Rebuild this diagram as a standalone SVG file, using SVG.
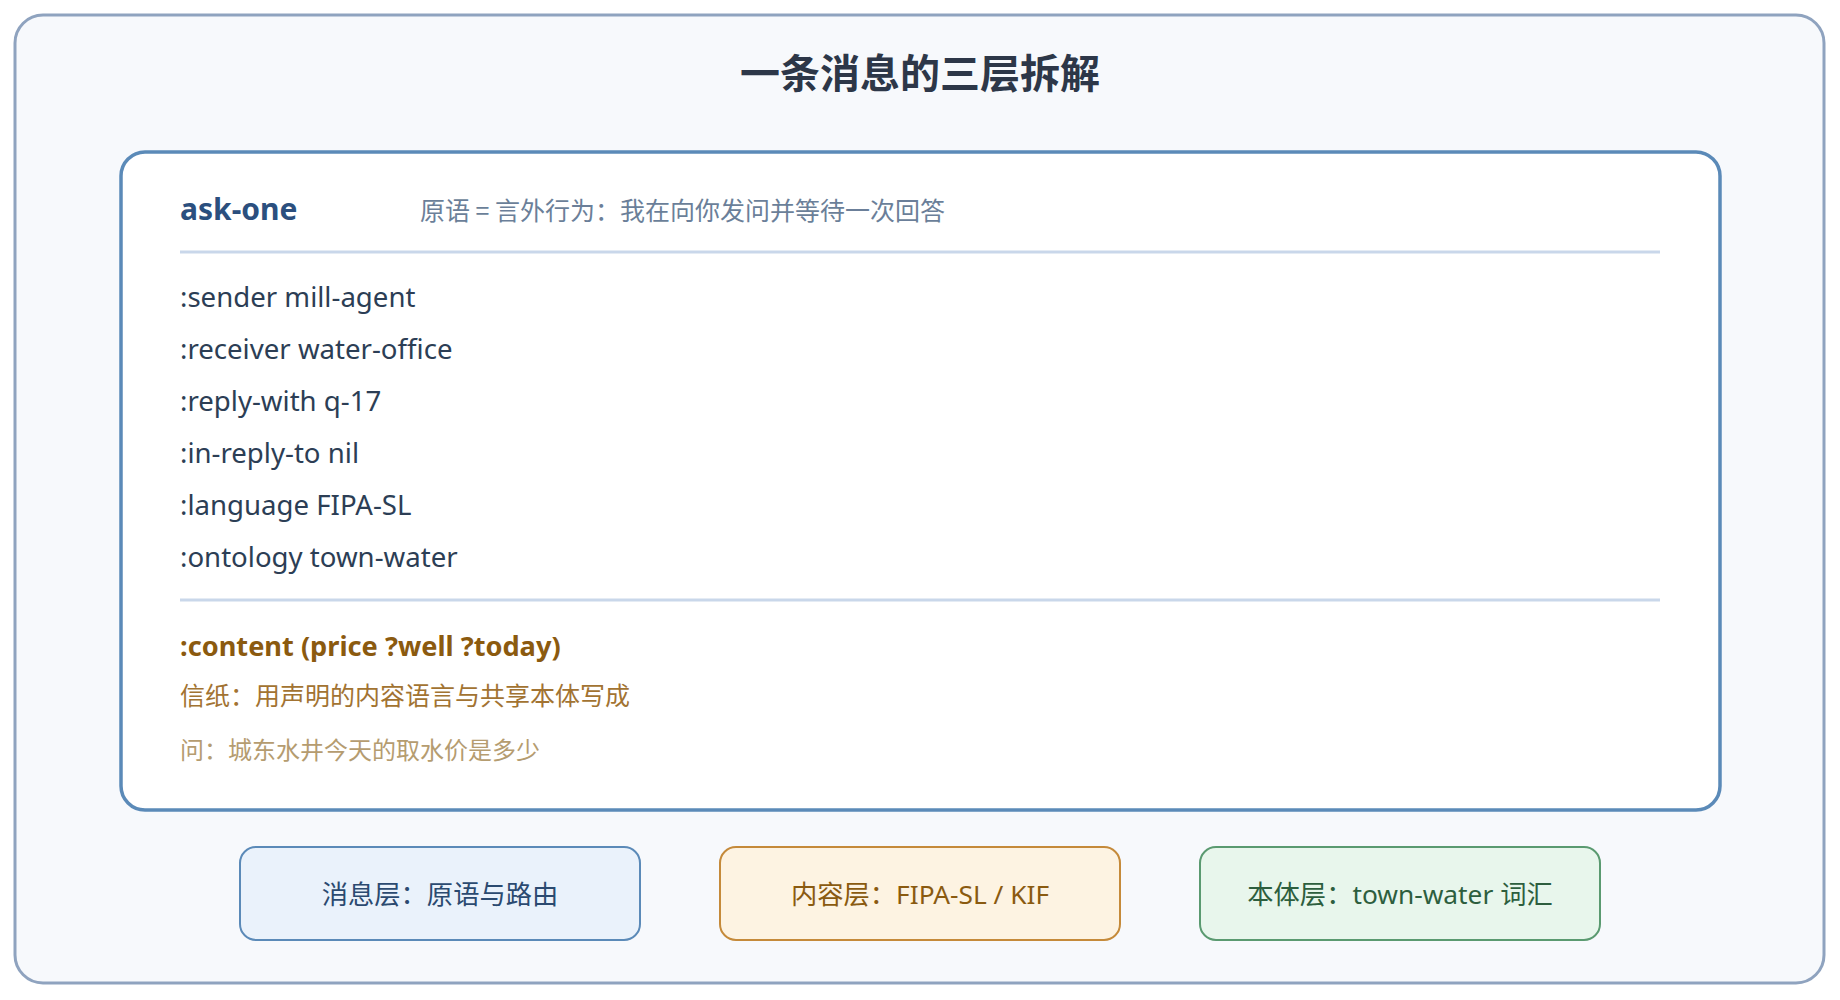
<svg xmlns="http://www.w3.org/2000/svg" width="1840" height="1000" viewBox="0 0 1840 1000">
<style>
text{font-family:"Noto Sans","Noto Sans CJK SC",sans-serif}
.cjk{font-family:"Noto Sans CJK SC","Noto Sans",sans-serif}
.title{font-size:40px;font-weight:700;fill:#2d3748}
.field{font-size:27.6px;fill:#2c3e55}
.sep{stroke:#c9d7ea;stroke-width:3}
.legend{font-size:26.3px}
</style>
<rect x="15" y="15" width="1809" height="968" rx="28" fill="#f7f9fc" stroke="#8fa3bf" stroke-width="3"/>
<text class="title cjk" x="920" y="88" text-anchor="middle">一条消息的三层拆解</text>
<g id="message-card">
<rect x="121" y="152" width="1599" height="658" rx="24" fill="#ffffff" stroke="#5b8ab8" stroke-width="3.5"/>
<text x="180" y="220" font-size="30" font-weight="700" fill="#2b4f7e">ask-one</text>
<text class="cjk" x="420" y="220" font-size="25" fill="#6b7f99">原语 = 言外行为：我在向你发问并等待一次回答</text>
<line class="sep" x1="180" y1="252" x2="1660" y2="252"/>
<text class="field" x="180" y="307">:sender mill-agent</text>
<text class="field" x="180" y="359">:receiver water-office</text>
<text class="field" x="180" y="411">:reply-with q-17</text>
<text class="field" x="180" y="463">:in-reply-to nil</text>
<text class="field" x="180" y="515">:language FIPA-SL</text>
<text class="field" x="180" y="567">:ontology town-water</text>
<line class="sep" x1="180" y1="600" x2="1660" y2="600"/>
<text x="180" y="656" font-size="27.2" font-weight="700" fill="#8b5a0f">:content (price ?well ?today)</text>
<text class="cjk" x="180" y="705" font-size="25" fill="#a27332">信纸：用声明的内容语言与共享本体写成</text>
<text class="cjk" x="180" y="759" font-size="24" fill="#b59c70">问：城东水井今天的取水价是多少</text>
</g>
<g id="layer-message">
<rect x="240" y="847" width="400" height="93" rx="16" fill="#eaf2fb" stroke="#5b8ab8" stroke-width="2"/>
<text class="legend cjk" x="440" y="904" text-anchor="middle" fill="#2b4a70">消息层：原语与路由</text>
</g>
<g id="layer-content">
<rect x="720" y="847" width="400" height="93" rx="16" fill="#fdf3e2" stroke="#c58a3a" stroke-width="2"/>
<text class="legend" x="920" y="904" text-anchor="middle" fill="#8a5a10">内容层：FIPA-SL / KIF</text>
</g>
<g id="layer-ontology">
<rect x="1200" y="847" width="400" height="93" rx="16" fill="#e8f6ec" stroke="#5a9a70" stroke-width="2"/>
<text class="legend" x="1400" y="904" text-anchor="middle" fill="#2d5e3e">本体层：town-water 词汇</text>
</g>
<g id="connectors"></g>
</svg>
